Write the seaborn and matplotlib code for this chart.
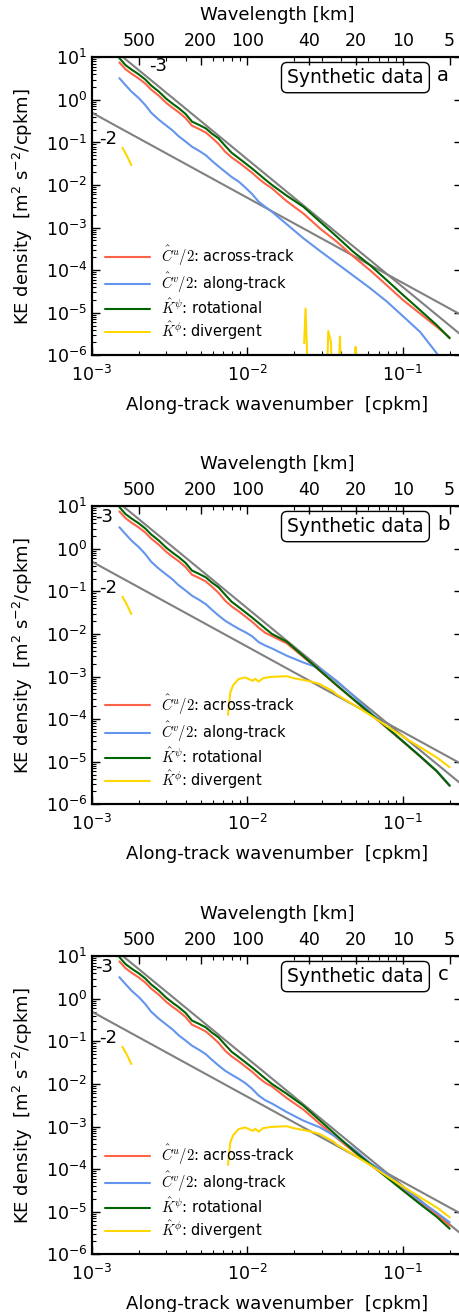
import numpy as np
import matplotlib
matplotlib.use("Agg")
import matplotlib.pyplot as plt
from matplotlib.ticker import FixedLocator, LogLocator, NullFormatter, FuncFormatter
import seaborn as sns

sns.set_style("ticks")
plt.rcParams["font.family"] = ["DejaVu Sans"]
plt.rcParams["mathtext.fontset"] = "cm"
plt.rcParams["axes.linewidth"] = 1.5
for key in ["text.color", "axes.labelcolor", "xtick.color", "ytick.color",
            "axes.edgecolor"]:
    plt.rcParams[key] = "black"

nan = np.nan

# Along-track wavenumber grid [cpkm]
wavenumber = [0.0015, 0.00164, 0.0018, 0.002, 0.0022, 0.0024, 0.0027, 0.003,
              0.0033, 0.0036, 0.004, 0.0044, 0.0049, 0.0054, 0.0059, 0.0065,
              0.0072, 0.0079, 0.0088, 0.0097, 0.0107, 0.0118, 0.013, 0.0144,
              0.0179, 0.0229, 0.0293, 0.0375, 0.048, 0.0614, 0.0785, 0.1,
              0.129, 0.165, 0.2]

# Large-scale parts shared by the three synthetic cases
rot_low = [9.6, 6.61, 5.13, 3.98, 3.02, 2.19, 1.55, 1.07, 0.813, 0.646, 0.468,
           0.309, 0.257, 0.214, 0.162, 0.126, 0.0832, 0.0575, 0.0427, 0.0324,
           0.0245, 0.0182, 0.0135, 0.0100]
across_low = [7.59, 5.29, 4.10, 3.18, 2.42, 1.75, 1.24, 0.856, 0.650, 0.517,
              0.374, 0.247, 0.206, 0.171, 0.130, 0.0935, 0.0603, 0.0447,
              0.0339, 0.0257, 0.0195, 0.0141, 0.0107]
along_low = [3.24, 2.24, 1.55, 1.10, 0.759, 0.501, 0.339, 0.251, 0.191, 0.141,
             0.105, 0.0794, 0.0631, 0.0501, 0.0372, 0.0275, 0.0204]

# Case a
across_a = across_low + [8.32e-3, 4.17e-3, 2.14e-3, 9.55e-4, 4.68e-4, 2.09e-4,
                         1.00e-4, 4.47e-5, 2.00e-5, 9.55e-6, 4.68e-6, 2.63e-6]
along_a = along_low + [0.0155, 0.0120, 8.71e-3, 6.17e-3, 4.07e-3, 3.09e-3,
                       2.34e-3, 1.20e-3, 5.62e-4, 2.82e-4, 1.45e-4, 7.41e-5,
                       3.80e-5, 1.86e-5, 8.32e-6, 3.55e-6, 1.12e-6, 3.55e-7]
rot_a = rot_low + [5.62e-3, 3.09e-3, 1.38e-3, 6.17e-4, 2.69e-4, 1.32e-4,
                   5.89e-5, 2.63e-5, 1.15e-5, 5.13e-6, 2.51e-6]
div_k_a = [0.00157, 0.00168, 0.00179, 0.0019, 0.0229, 0.02317, 0.02366,
           0.02438, 0.0245, 0.03258, 0.03311, 0.03443, 0.03483, 0.035,
           0.03882, 0.03936, 0.0399, 0.0401, 0.04909, 0.04966, 0.05023]
div_a = [0.0753, 0.048, 0.0295, nan, nan, 1.91e-6, 1.26e-5, 5e-7, nan, 5e-7,
         3.72e-6, 2.09e-6, 5e-7, nan, 5e-7, 2.75e-6, 5e-7, nan, 5e-7, 1.58e-6,
         5e-7]

# Case b
across_b = across_low + [8.91e-3, 6.03e-3, 2.88e-3, 1.35e-3, 6.17e-4, 2.88e-4,
                         1.35e-4, 6.31e-5, 2.95e-5, 1.32e-5, 5.89e-6, 2.69e-6]
along_b = along_low + [0.0166, 0.0132, 0.0110, 8.91e-3, 6.46e-3, 5.37e-3,
                       4.57e-3, 3.09e-3, 2.14e-3, 1.55e-3, 7.94e-4, 3.55e-4,
                       1.48e-4, 6.46e-5, 3.02e-5, 1.35e-5, 6.03e-6, 2.75e-6]
rot_b = rot_low + [6.61e-3, 3.02e-3, 1.38e-3, 6.31e-4, 2.95e-4, 1.38e-4,
                   6.46e-5, 3.02e-5, 1.35e-5, 6.03e-6, 2.75e-6]
div_k_b = [0.00157, 0.00168, 0.00179, 0.0019, 0.0075, 0.00776, 0.00811,
           0.00877, 0.00968, 0.01035, 0.01084, 0.01122, 0.0118, 0.01259,
           0.01396, 0.01585, 0.01786, 0.01995, 0.02286, 0.02649, 0.02931,
           0.03565, 0.0375, 0.048, 0.0614, 0.0785, 0.1, 0.129, 0.165, 0.2]
div_b = [0.0753, 0.048, 0.0295, nan, 1.26e-4, 4.27e-4, 6.31e-4, 8.71e-4,
         9.55e-4, 8.51e-4, 7.94e-4, 8.91e-4, 7.59e-4, 9.12e-4, 9.77e-4,
         1.00e-3, 1.02e-3, 9.12e-4, 8.32e-4, 7.41e-4, 6.61e-4, 4.47e-4,
         3.80e-4, 2.19e-4, 1.26e-4, 6.92e-5, 3.89e-5, 2.19e-5, 1.26e-5, 7.41e-6]

# Case c
across_c = across_low + [8.71e-3, 4.68e-3, 2.51e-3, 1.15e-3, 5.37e-4, 2.63e-4,
                         1.29e-4, 6.61e-5, 3.31e-5, 1.66e-5, 8.71e-6, 4.68e-6]
along_c = along_low + [0.0166, 0.0132, 0.0105, 7.76e-3, 5.37e-3, 4.17e-3,
                       3.47e-3, 2.19e-3, 1.38e-3, 9.55e-4, 5.62e-4, 3.02e-4,
                       1.41e-4, 7.59e-5, 3.72e-5, 1.78e-5, 9.55e-6, 5.62e-6]
rot_c = rot_low + [5.89e-3, 3.09e-3, 1.38e-3, 6.17e-4, 2.75e-4, 1.32e-4,
                   6.46e-5, 3.16e-5, 1.51e-5, 7.59e-6, 3.98e-6]
div_k_c = div_k_b
div_c = div_b

# Reference power laws (k^-3 and k^-2), given by their end points
ref_k = [1e-3, 0.3]
ref_m3 = [40.0, 1.48e-6]
ref_m2 = [0.5, 5.56e-6]

wavelength_ticks = [500, 200, 100, 40, 20, 10, 5]

labels = [r"$\hat{C}^u/2$: across-track", r"$\hat{C}^v/2$: along-track",
          r"$\hat{K}^\psi$: rotational", r"$\hat{K}^\phi$: divergent"]
colors = ["tomato", "cornflowerblue", "darkgreen", "gold"]

panels = [
    dict(letter="a", across=across_a, along=along_a, rot=rot_a,
         div_k=div_k_a, div=div_a, m3_pos=(0.00265, 6.2), bottom=0.7292),
    dict(letter="b", across=across_b, along=along_b, rot=rot_b,
         div_k=div_k_b, div=div_b, m3_pos=(0.00119, 5.7), bottom=0.3870),
    dict(letter="c", across=across_c, along=along_c, rot=rot_c,
         div_k=div_k_c, div=div_c, m3_pos=(0.00119, 5.7), bottom=0.0440),
]


def pow10(v, pos):
    return r"$\mathregular{10^{%d}}$" % int(round(np.log10(v)))


def segments(k, e):
    seg_k, seg_e = [], []
    for kk, ee in zip(k, e):
        if np.isnan(ee):
            if seg_k:
                yield seg_k, seg_e
            seg_k, seg_e = [], []
        else:
            seg_k.append(kk)
            seg_e.append(ee)
    if seg_k:
        yield seg_k, seg_e


fig = plt.figure(figsize=(4.6, 13.12), dpi=100)
LW = 1.5

for p in panels:
    ax = fig.add_axes([0.2, p["bottom"], 0.8043, 0.2271])

    sns.lineplot(x=ref_k, y=ref_m3, color="gray", lw=LW, ax=ax,
                 estimator=None, sort=False)
    sns.lineplot(x=ref_k, y=ref_m2, color="gray", lw=LW, ax=ax,
                 estimator=None, sort=False)

    for vals, col, lab in zip([p["across"], p["along"], p["rot"]],
                              colors[:3], labels[:3]):
        sns.lineplot(x=wavenumber, y=vals, color=col, lw=LW, label=lab,
                     ax=ax, estimator=None, sort=False)
    first = True
    for sk, se in segments(p["div_k"], p["div"]):
        sns.lineplot(x=sk, y=se, color=colors[3], lw=LW,
                     label=labels[3] if first else None,
                     ax=ax, estimator=None, sort=False)
        first = False

    ax.set_xscale("log")
    ax.set_yscale("log")
    ax.set_xlim(1e-3, 0.24)
    ax.set_ylim(1e-6, 1e1)

    ax.xaxis.set_major_locator(FixedLocator([1e-3, 1e-2, 1e-1]))
    ax.xaxis.set_major_formatter(FuncFormatter(pow10))
    ax.xaxis.set_minor_locator(LogLocator(base=10, subs=np.arange(2, 10) * 1.0, numticks=50))
    ax.xaxis.set_minor_formatter(NullFormatter())
    ax.yaxis.set_major_locator(FixedLocator([10.0 ** i for i in range(-6, 2)]))
    ax.yaxis.set_major_formatter(FuncFormatter(pow10))
    ax.yaxis.set_minor_locator(LogLocator(base=10, subs=np.arange(2, 10) * 1.0, numticks=50))
    ax.yaxis.set_minor_formatter(NullFormatter())
    ax.tick_params(which="both", direction="in", top=False, labelsize=12.5)
    ax.tick_params(which="major", length=6, width=1, right=True)
    ax.tick_params(which="minor", length=3, width=0.8, right=False)
    ax.tick_params(axis="x", which="major", pad=7)

    ax.set_xlabel("Along-track wavenumber  [cpkm]", fontsize=13, labelpad=8)
    ax.set_ylabel(r"KE density  [m$\mathregular{^2}$ s$\mathregular{^{-2}}$/cpkm]",
                  fontsize=13, labelpad=8)

    ax.text(p["m3_pos"][0], p["m3_pos"][1], "-3", fontsize=13,
            ha="center", va="center")
    ax.text(0.00127, 0.12, "-2", fontsize=13, ha="center", va="center")
    ax.text(0.712, 0.932, "Synthetic data", transform=ax.transAxes,
            ha="center", va="center", fontsize=13.5,
            bbox=dict(boxstyle="round,pad=0.3", fc="white", ec="black", lw=1))
    ax.text(0.949, 0.94, p["letter"], transform=ax.transAxes,
            ha="center", va="center", fontsize=14)

    ax.legend(loc="lower left", frameon=False, fontsize=10.5,
              handlelength=3.1, handletextpad=0.7, labelspacing=0.2,
              borderaxespad=0.5)

    top = ax.twiny()
    top.set_xscale("log")
    top.set_xlim(ax.get_xlim())
    top.xaxis.set_major_locator(FixedLocator([1.0 / w for w in wavelength_ticks]))
    top.xaxis.set_major_formatter(FuncFormatter(
        lambda v, pos: "%d" % int(round(1.0 / v))))
    top.xaxis.set_minor_locator(LogLocator(base=10, subs=np.arange(2, 10) * 1.0, numticks=50))
    top.xaxis.set_minor_formatter(NullFormatter())
    top.tick_params(which="both", direction="in", labelsize=12.5)
    top.tick_params(which="major", length=6, width=1, pad=5)
    top.tick_params(which="minor", length=3, width=0.8)
    top.set_xlabel("Wavelength [km]", fontsize=13, labelpad=9)
    for s in top.spines.values():
        s.set_linewidth(1.5)

fig.savefig("out.png", dpi=100)
